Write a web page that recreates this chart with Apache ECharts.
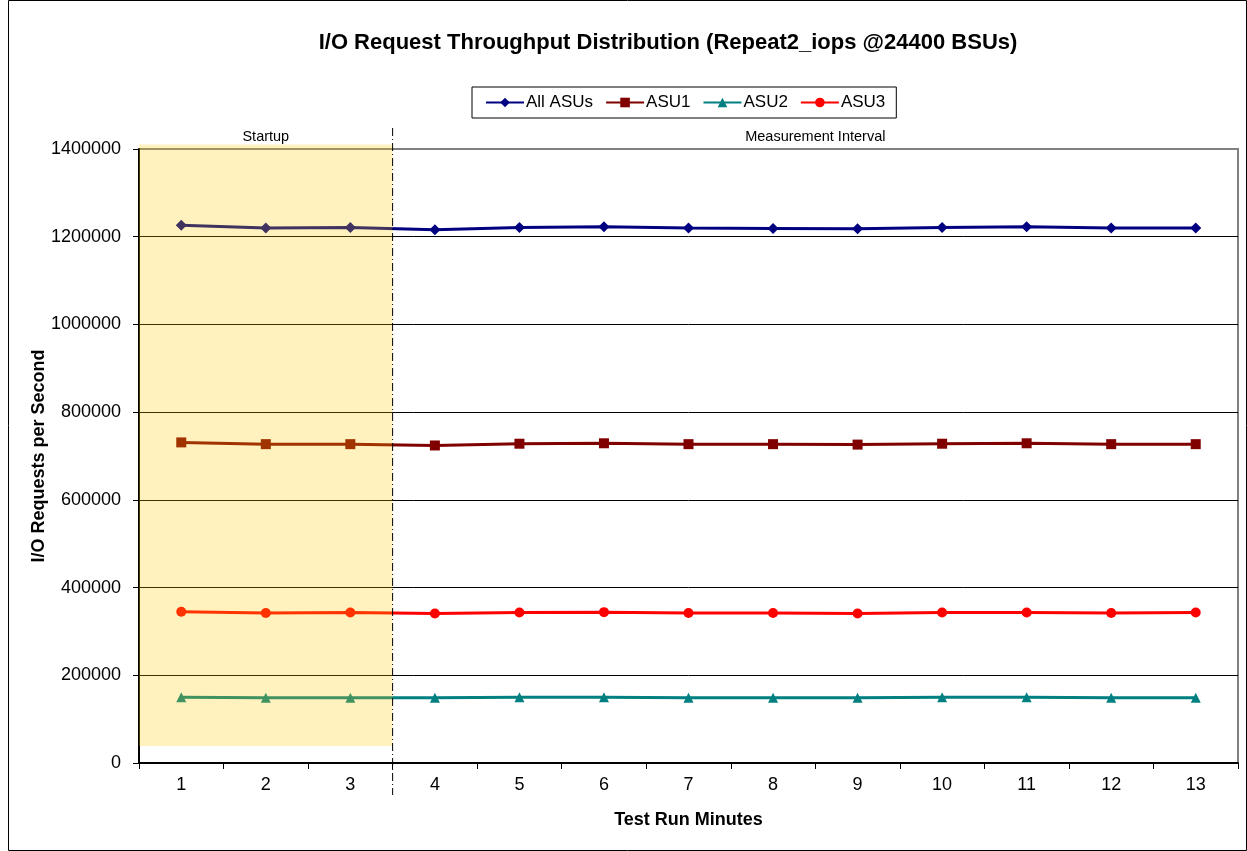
<!DOCTYPE html>
<html><head><meta charset="utf-8">
<script src="https://cdn.jsdelivr.net/npm/echarts@6/dist/echarts.min.js"></script>
<style>html,body{margin:0;padding:0;background:#fff}#c{width:1247px;height:851px}</style>
</head><body><div id="c"></div>
<script>
const categories = ['1','2','3','4','5','6','7','8','9','10','11','12','13'];
const allASUs = [1226000,1220000,1221000,1216000,1221000,1223000,1220000,1219000,1218000,1221000,1223000,1220000,1220000];
const asu1 = [731000,727000,727000,724000,728000,729000,727000,727000,726000,728000,729000,727000,727000];
const asu2 = [150000,149000,149000,149000,150000,150000,149000,149000,149000,150000,150000,149000,149000];
const asu3 = [345000,342000,343000,341000,343000,344000,342000,342000,341000,343000,343000,342000,343000];
const startupCount = 3;
const shadeRange = [39000, 1410000];

const FONT = 'Liberation Sans, Arial, sans-serif';
const chart = echarts.init(document.getElementById('c'));
function mkSeries(name, data, color, symbol, size) {
  return { name, type: 'line', data, color, symbol, symbolSize: size,
    lineStyle: { width: 3, color }, itemStyle: { color }, z: 3 };
}
chart.setOption({
  animation: false,
  backgroundColor: '#fff',
  title: { text: 'I/O Request Throughput Distribution (Repeat2_iops @24400 BSUs)', left: 663, top: 27, textAlign: 'center',
    textStyle: { fontFamily: FONT, fontSize: 22, fontWeight: 'bold', color: '#000' } },
  legend: { left: 472, top: 87, borderColor: '#000', borderWidth: 1, padding: [7, 11, 7, 13], itemGap: 12,
    itemWidth: 38, itemHeight: 12,
    textStyle: { fontFamily: FONT, fontSize: 17, color: '#000', padding: [0, 0, 0, -3] },
    data: ['All ASUs', 'ASU1', 'ASU2', 'ASU3'] },
  grid: { left: 139, right: 9, top: 149, bottom: 88, show: true, borderColor: '#808080', borderWidth: 2, backgroundColor: 'transparent' },
  xAxis: { type: 'category', data: categories, boundaryGap: true,
    name: 'Test Run Minutes', nameLocation: 'middle', nameGap: 48, nameMoveOverlap: false,
    nameTextStyle: { fontFamily: FONT, fontSize: 18, fontWeight: 'bold', color: '#000' },
    axisLine: { lineStyle: { color: '#000', width: 2 } },
    axisTick: { show: true, alignWithLabel: false, length: 6, lineStyle: { color: '#000' } },
    axisLabel: { fontFamily: FONT, fontSize: 18, color: '#000', margin: 13 } },
  yAxis: { type: 'value', min: 0, max: 1400000, interval: 200000,
    name: 'I/O Requests per Second', nameLocation: 'middle', nameGap: 91, nameMoveOverlap: false,
    nameTextStyle: { fontFamily: FONT, fontSize: 18, fontWeight: 'bold', color: '#000' },
    axisLine: { show: true, lineStyle: { color: '#000', width: 2 } },
    axisTick: { show: true, length: 6, lineStyle: { color: '#000' } },
    axisLabel: { fontFamily: FONT, fontSize: 18, color: '#000', margin: 18, formatter: v => String(v) },
    splitLine: { show: true, lineStyle: { color: ['#000','#000','#000','#000','#000','#000','#000','#808080'], width: 1 } } },
  series: [
    mkSeries('All ASUs', allASUs, '#000080', 'diamond', 11),
    mkSeries('ASU1', asu1, '#800000', 'rect', 10),
    mkSeries('ASU2', asu2, '#008080', 'triangle', 10),
    mkSeries('ASU3', asu3, '#FF0000', 'circle', 10)
  ]
});

function decorate() {
  const p0 = chart.convertToPixel({ xAxisIndex: 0 }, 0);
  const p1 = chart.convertToPixel({ xAxisIndex: 0 }, 1);
  const band = p1 - p0;
  const left = p0 - band / 2;
  const boundary = chart.convertToPixel({ xAxisIndex: 0 }, startupCount - 1) + band / 2;
  const endX = chart.convertToPixel({ xAxisIndex: 0 }, categories.length - 1) + band / 2;
  const yTop = chart.convertToPixel({ yAxisIndex: 0 }, shadeRange[1]);
  const yBot = chart.convertToPixel({ yAxisIndex: 0 }, shadeRange[0]);
  const yAxisTop = chart.convertToPixel({ yAxisIndex: 0 }, 1400000);
  const yAxisBot = chart.convertToPixel({ yAxisIndex: 0 }, 0);
  chart.setOption({
    graphic: [
      { type: 'rect', z: 100, silent: true, shape: { x: left, y: yTop, width: boundary - left, height: yBot - yTop },
        style: { fill: 'rgba(255,204,0,0.25)' } },
      { type: 'line', z: 101, silent: true, shape: { x1: boundary, y1: yAxisTop - 21, x2: boundary, y2: yAxisBot + 32 },
        style: { stroke: '#000', lineWidth: 1, lineDash: [8, 3, 1, 3] } },
      { type: 'text', z: 101, silent: true, x: (left + boundary) / 2, y: yAxisTop - 12,
        style: { text: 'Startup', fontFamily: FONT, fontSize: 14.5, fill: '#000', align: 'center', verticalAlign: 'middle' } },
      { type: 'text', z: 101, silent: true, x: (boundary + endX) / 2, y: yAxisTop - 12,
        style: { text: 'Measurement Interval', fontFamily: FONT, fontSize: 14.5, fill: '#000', align: 'center', verticalAlign: 'middle' } },
      { type: 'rect', z: 0, silent: true, shape: { x: 8.5, y: 0.5, width: 1238, height: 850 },
        style: { fill: 'none', stroke: '#000', lineWidth: 1 } }
    ]
  });
}
decorate();
</script></body></html>
